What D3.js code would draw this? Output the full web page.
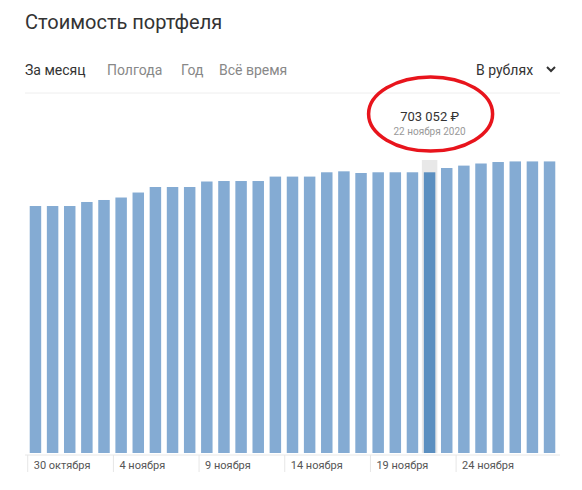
<!DOCTYPE html>
<html><head><meta charset="utf-8">
<script src="https://cdn.jsdelivr.net/npm/d3@7"></script>
<style>body{margin:0;background:#fff;font-family:Roboto,"Noto Sans",sans-serif}</style>
</head><body><svg id="c" width="582" height="490"></svg>
<script>
var dates = d3.range(31).map(function (i) { return new Date(2020, 9, 30 + i); });
var values = [618600, 618600, 618600, 628700, 633700, 639900, 652400, 666200, 666200, 666200,
    680000, 681200, 681200, 681200, 692300, 692300, 692300, 703100, 705500, 701300,
    703100, 703100, 703100, 703052, 713800, 719800, 725100, 728800, 730300, 730300, 730300];
var tabs = ["За месяц", "Полгода", "Год", "Всё время"];
var months = ["января","февраля","марта","апреля","мая","июня","июля","августа","сентября","октября","ноября","декабря"];
var sel = 23;

var svg = d3.select("#c");
svg.append("text").attr("x", 25).attr("y", 29).attr("font-size", 20).attr("fill", "#333").text("Стоимость портфеля");
var tx = [25, 107, 181, 219];
svg.selectAll(".tab").data(tabs).enter().append("text")
    .attr("x", function (d, i) { return tx[i] }).attr("y", 75).attr("font-size", 14)
    .attr("fill", function (d, i) { return i == 0 ? "#333" : "#888" }).text(function (d) { return d });
svg.append("text").attr("x", 476).attr("y", 75).attr("font-size", 14).attr("fill", "#333").text("В рублях");
svg.append("path").attr("d", "M547,67 l4,4 l4,-4").attr("fill", "none").attr("stroke", "#333").attr("stroke-width", 2);
svg.append("line").attr("x1", 25).attr("x2", 560).attr("y1", 93).attr("y2", 93).attr("stroke", "#eee");

var x = d3.scaleBand().domain(d3.range(31)).range([28, 557]).paddingInner(0.33).paddingOuter(0.1);
var y = d3.scaleLinear().domain([0, 703052]).range([453, 172.3]);

svg.append("rect").attr("x", x(sel) - 2).attr("width", x.bandwidth() + 4).attr("y", 160).attr("height", 293).attr("fill", "#e8e8e8");
svg.selectAll(".bar").data(values).enter().append("rect")
    .attr("x", function (d, i) { return x(i) }).attr("width", x.bandwidth())
    .attr("y", function (d) { return y(d) }).attr("height", function (d) { return 453 - y(d) })
    .attr("fill", function (d, i) { return i == sel ? "#5b8fc0" : "#84abd3" });

svg.append("line").attr("x1", 25).attr("x2", 560).attr("y1", 455).attr("y2", 455).attr("stroke", "#e6e6e6");
var tickIdx = [0, 5, 10, 15, 20, 25];
var g = svg.selectAll(".tk").data(tickIdx).enter().append("g");
g.append("line").attr("x1", function (i) { return x(i) - 2 }).attr("x2", function (i) { return x(i) - 2 })
    .attr("y1", 455).attr("y2", 472).attr("stroke", "#e6e6e6");
g.append("text").attr("x", function (i) { return x(i) + 4 }).attr("y", 469).attr("font-size", 11).attr("fill", "#555")
    .text(function (i) { return dates[i].getDate() + " " + months[dates[i].getMonth()] });

var cx = x(sel) + x.bandwidth() / 2;
svg.append("text").attr("x", cx).attr("y", 121).attr("text-anchor", "middle").attr("font-size", 13).attr("fill", "#333")
    .text(d3.format(",")(values[sel]).replace(/,/g, " ") + " ₽");
svg.append("text").attr("x", cx).attr("y", 135).attr("text-anchor", "middle").attr("font-size", 10).attr("fill", "#999")
    .text(dates[sel].getDate() + " " + months[dates[sel].getMonth()] + " " + dates[sel].getFullYear());
svg.append("ellipse").attr("cx", cx + 1).attr("cy", 114).attr("rx", 62).attr("ry", 37)
    .attr("fill", "none").attr("stroke", "#e8141c").attr("stroke-width", 3.5);
</script></body></html>
